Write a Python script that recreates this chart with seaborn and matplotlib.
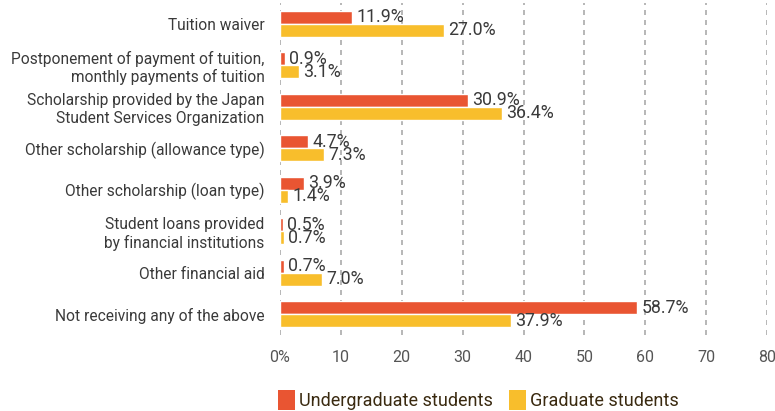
import matplotlib
matplotlib.use("Agg")
import matplotlib.pyplot as plt
import seaborn as sns
import pandas as pd
from matplotlib.patches import Patch

categories = [
    "Tuition waiver",
    "Postponement of payment of tuition,\nmonthly payments of tuition",
    "Scholarship provided by the Japan\nStudent Services Organization",
    "Other scholarship (allowance type)",
    "Other scholarship (loan type)",
    "Student loans provided\nby financial institutions",
    "Other financial aid",
    "Not receiving any of the above",
]
undergraduate = [11.9, 0.9, 30.9, 4.7, 3.9, 0.5, 0.7, 58.7]
graduate = [27.0, 3.1, 36.4, 7.3, 1.4, 0.7, 7.0, 37.9]
series_names = ["Undergraduate students", "Graduate students"]
x_ticks = [0, 10, 20, 30, 40, 50, 60, 70, 80]
x_tick_labels = ["0%", "10", "20", "30", "40", "50", "60", "70", "80"]

colors = ["#E95532", "#F8BE2C"]
text_color = "#3a3a3a"

sns.set_theme(style="white")
plt.rcParams["font.family"] = ["Roboto", "DejaVu Sans"]

df = pd.DataFrame({
    "category": categories * 2,
    "value": undergraduate + graduate,
    "group": [series_names[0]] * len(categories) + [series_names[1]] * len(categories),
})

fig = plt.figure(figsize=(7.75, 4.11), dpi=100)
ax = fig.add_axes([0.361, 0.185, 0.629, 0.808])

sns.barplot(data=df, y="category", x="value", hue="group", order=categories,
            hue_order=series_names, palette=colors, orient="h", width=0.63,
            saturation=1, ax=ax, legend=False)

for container in ax.containers:
    ax.bar_label(container, labels=[f"{v:.1f}%" for v in container.datavalues],
                 padding=3, fontsize=12.8, color=text_color)

ax.set_xlim(0, 80)
ax.set_xticks(x_ticks)
ax.set_xticklabels(x_tick_labels, fontsize=11.5, color="#555555")
ax.set_xlabel("")
ax.set_ylabel("")
ax.tick_params(axis="y", labelsize=11.2, colors=text_color, length=0, pad=11)
ax.tick_params(axis="x", length=0, pad=11)
for lbl in ax.get_yticklabels():
    lbl.set_horizontalalignment("right")
    lbl.set_multialignment("right")
ax.xaxis.grid(True, linestyle=(0, (3, 3)), color="#AAAAAA", linewidth=1.2)
ax.set_axisbelow(True)
for s in ax.spines.values():
    s.set_visible(False)

handles = [Patch(facecolor=c, edgecolor="none") for c in colors]
fig.legend(handles, series_names, loc="lower left", bbox_to_anchor=(0.338, -0.038),
           ncol=2, frameon=False, handlelength=0.95, handleheight=1.35,
           handletextpad=0.2, columnspacing=0.9, labelcolor="#3a2a10",
           prop={"size": 13})

fig.savefig("out.png", dpi=100)
